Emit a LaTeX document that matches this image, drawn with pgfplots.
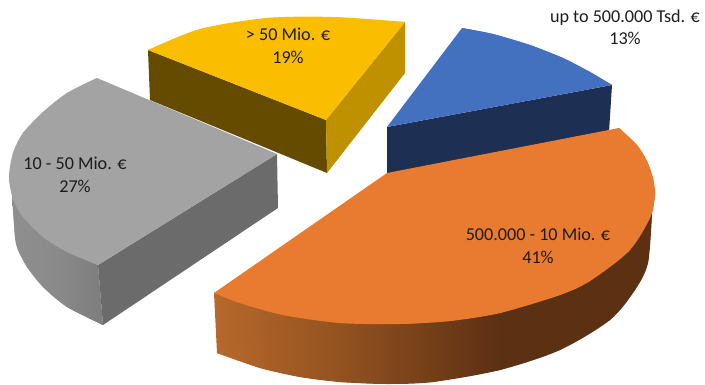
\documentclass[border=0pt]{standalone}
\usepackage{pgfplots}
\pgfplotsset{compat=1.18}
\usepackage{fontspec}
\setmainfont{Carlito}
\definecolor{yellowTop}{HTML}{FBBD00}
\definecolor{yellowLeft}{HTML}{654B00}
\definecolor{yellowRight}{HTML}{BF9000}
\definecolor{greyTop}{HTML}{A3A3A3}
\definecolor{greySide}{HTML}{6B6B6B}
\definecolor{blueTop}{HTML}{4371C0}
\definecolor{blueSide}{HTML}{1D2F52}
\definecolor{orangeTop}{HTML}{E97B30}
\definecolor{labelInk}{HTML}{1C1C1C}
% The bounding box of a shaded path spans the stops from 25bp to 75bp.
\pgfdeclarehorizontalshading{orangeRim}{100bp}{
  rgb(0bp)=(0.72,0.41,0.17);
  rgb(25bp)=(0.72,0.41,0.17);
  rgb(39.5bp)=(0.57,0.32,0.125);
  rgb(57.5bp)=(0.36,0.188,0.075);
  rgb(100bp)=(0.36,0.188,0.075)}
\pgfdeclarehorizontalshading{greyRim}{100bp}{
  rgb(0bp)=(0.56,0.56,0.56);
  rgb(25bp)=(0.56,0.56,0.56);
  rgb(50bp)=(0.54,0.54,0.54);
  rgb(75bp)=(0.49,0.49,0.49);
  rgb(100bp)=(0.49,0.49,0.49)}
\tikzset{lab/.style={font=\fontsize{18.2}{22.5}\selectfont, text=labelInk, align=center, inner sep=0pt}}
\begin{document}
\begin{tikzpicture}
\begin{axis}[
  scale only axis, width=705bp, height=385bp,
  xmin=0, xmax=705, ymin=0, ymax=385, y dir=reverse,
  hide axis, clip=true,
  every axis plot/.append style={draw=none, mark=none, line width=0pt},
]
\path (axis cs:0,0) rectangle (axis cs:705,385);
% Each curved face is a straight polygon plus a smoothed segment along its arc.
% grey slice: 10 - 50 Mio.
\addplot[shading=greyRim] coordinates {(12,195) (15,237) (18,250) (27,267) (43,287) (67,307) (103,325) (98,265)} -- cycle;
\addplot[shading=greyRim, smooth] coordinates {(12,195) (15,237) (18,250) (27,267) (43,287) (67,307) (103,325)} -- cycle;
\addplot[fill=greySide] coordinates {(98,265) (277,154) (278,208) (103,325)} -- cycle;
\addplot[fill=greyTop] coordinates {(97,78) (277,154) (98,265) (67,252) (43,237) (23,217) (13,199) (9,177) (13,153) (23,133) (43,112) (67,93)} -- cycle;
\addplot[fill=greyTop, smooth] coordinates {(98,265) (67,252) (43,237) (23,217) (13,199) (9,177) (13,153) (23,133) (43,112) (67,93) (97,78)} -- cycle;
% yellow slice: > 50 Mio.
\addplot[fill=yellowLeft] coordinates {(148,50) (326,120) (327,173) (150,100)} -- cycle;
\addplot[fill=yellowRight] coordinates {(326,120) (405,22) (405,73) (327,173)} -- cycle;
\addplot[fill=yellowTop] coordinates {(148,50) (200,29) (267,18) (333,17) (405,22) (326,120)} -- cycle;
\addplot[fill=yellowTop, smooth] coordinates {(148,50) (200,29) (267,18) (333,17) (405,22)} -- cycle;
% blue slice: up to 500.000 Tsd.
\addplot[fill=blueSide] coordinates {(387,127) (612,85) (609,132) (387,176)} -- cycle;
\addplot[fill=blueTop] coordinates {(387,127) (462,28) (493,34) (530,45) (563,58) (590,72) (612,85)} -- cycle;
\addplot[fill=blueTop, smooth] coordinates {(462,28) (493,34) (530,45) (563,58) (590,72) (612,85)} -- cycle;
% orange slice: 500.000 - 10 Mio.
\addplot[shading=orangeRim] coordinates {(214,293) (217,353) (260,368) (300,377) (340,382) (387,384) (433,382) (500,370) (560,350) (610,320) (635,290) (648,263) (652,213) (655,195)} -- cycle;
\addplot[shading=orangeRim, smooth] coordinates {(217,353) (260,368) (300,377) (340,382) (387,384) (433,382) (500,370) (560,350) (610,320) (635,290) (648,263) (652,213)} -- cycle;
\addplot[fill=orangeTop] coordinates {(214,293) (387,173) (619,128) (637,145) (647,161) (653,178) (655,195) (650,218) (629,251) (590,281) (560,295) (500,313) (450,321) (400,324) (340,323) (283,315) (240,303)} -- cycle;
\addplot[fill=orangeTop, smooth] coordinates {(619,128) (637,145) (647,161) (653,178) (655,195) (650,218) (629,251) (590,281) (560,295) (500,313) (450,321) (400,324) (340,323) (283,315) (240,303) (214,293)} -- cycle;
% data labels
\node[lab] at (axis cs:288,46) {> 50 Mio. €\\19\%};
\node[lab] at (axis cs:625,27) {up to 500.000 Tsd. €\\13\%};
\node[lab] at (axis cs:538,246) {500.000 - 10 Mio. €\\41\%};
\node[lab] at (axis cs:75,175) {10 - 50 Mio. €\\27\%};
\end{axis}
\end{tikzpicture}
\end{document}
